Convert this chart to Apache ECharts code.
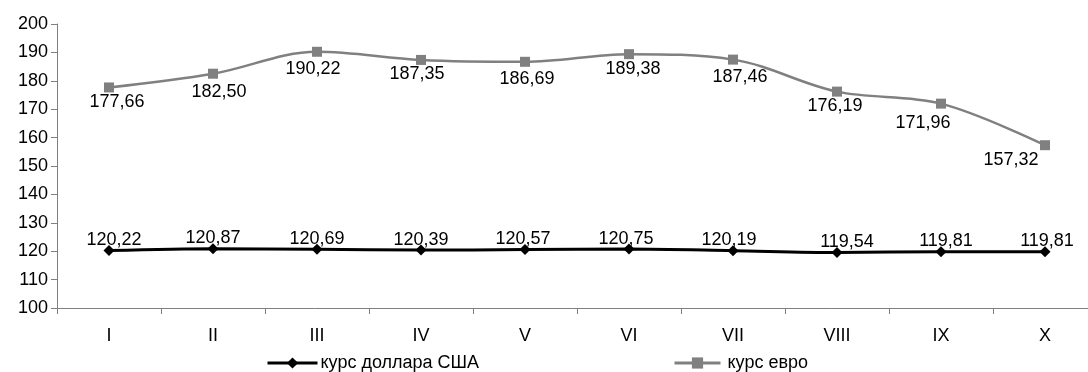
<!DOCTYPE html>
<html><head><meta charset="utf-8">
<script src="https://cdn.jsdelivr.net/npm/echarts@6/dist/echarts.min.js"></script>
<style>html,body{margin:0;padding:0;background:#fff}#c{width:1088px;height:372px}</style>
</head><body><div id="c"></div>
<script>
const categories = ['I','II','III','IV','V','VI','VII','VIII','IX','X'];
const usdValues = [120.22,120.87,120.69,120.39,120.57,120.75,120.19,119.54,119.81,119.81];
const eurValues = [177.66,182.50,190.22,187.35,186.69,189.38,187.46,176.19,171.96,157.32];
const usdName = 'курс доллара США';
const eurName = 'курс евро';
// label nudges (styling only, as in the source chart)
const usdLabelNudge = [[5,0],[0,0],[0,0],[0,0],[-2,0],[-3,0],[-4,0],[10,0],[5,0],[2,0]];
const eurLabelNudge = [[8,1],[6,4],[-4,3],[-4,0],[2,3],[4,1],[7,3],[-2,0],[-18,5],[-34,1]];
const FONT = '"Liberation Sans", Arial, sans-serif';
const FS = 18;
const fmt = p => p.value.toFixed(2).replace('.', ',');
const chart = echarts.init(document.getElementById('c'));
chart.setOption({
  animation:false,
  textStyle:{fontFamily:FONT},
  grid:{left:57, width:1040, top:24, bottom:64, containLabel:false, outerBoundsMode:'none'},
  legend:[
    {data:[usdName], left:261, top:349, itemWidth:50, itemHeight:14, itemGap:0,
     lineStyle:{width:3},
     textStyle:{fontFamily:FONT,fontSize:FS,color:'#000',padding:[0,0,0,-2]}},
    {data:[eurName], left:668, top:349, itemWidth:46, itemHeight:14, itemGap:0,
     lineStyle:{width:3},
     textStyle:{fontFamily:FONT,fontSize:FS,color:'#000',padding:[0,0,0,2]}}
  ],
  xAxis:{type:'category', data:categories, boundaryGap:true,
    axisLine:{lineStyle:{color:'#808080',width:1}},
    axisTick:{show:true, inside:false, length:6, lineStyle:{color:'#808080'}},
    axisLabel:{fontFamily:FONT,fontSize:FS,color:'#000',margin:19}},
  yAxis:{type:'value', min:100, max:200, interval:10,
    splitLine:{show:false},
    axisLine:{show:true, lineStyle:{color:'#808080',width:1}},
    axisTick:{show:true, length:6, lineStyle:{color:'#808080'}},
    axisLabel:{fontFamily:FONT,fontSize:FS,color:'#000',margin:9}},
  series:[
    {name:usdName, type:'line', smooth:0.3,
     data:usdValues.map((v,i)=>({value:v, label:{offset:usdLabelNudge[i]}})),
     symbol:'diamond', symbolSize:11,
     lineStyle:{color:'#000',width:3}, itemStyle:{color:'#000'},
     label:{show:true, position:'top', distance:-4, formatter:fmt,
       fontFamily:FONT, fontSize:FS, color:'#000'}},
    {name:eurName, type:'line', smooth:0.35,
     data:eurValues.map((v,i)=>({value:v, label:{offset:eurLabelNudge[i]}})),
     symbol:'rect', symbolSize:10,
     lineStyle:{color:'#808080',width:2.5}, itemStyle:{color:'#808080'},
     label:{show:true, position:'bottom', distance:0, formatter:fmt,
       fontFamily:FONT, fontSize:FS, color:'#000'}}
  ]
});
</script></body></html>
